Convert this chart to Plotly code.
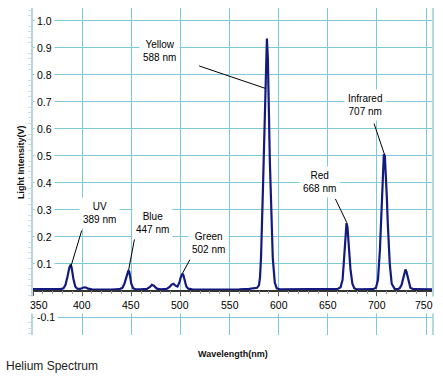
import plotly.graph_objects as go

# ---- spectrum data ----
wavelength = [350, 360, 370, 378, 381, 383, 385, 386, 387, 388, 389, 390, 391, 393, 395, 398,
              400, 402, 404, 406, 410, 420, 430, 438, 441, 443, 445, 446, 447, 448, 449, 450,
              452, 455, 460, 466, 469, 471, 473, 476, 480, 486, 489, 491, 493, 495, 497, 499,
              500, 501, 502, 503, 504, 506, 508, 512, 520, 540, 560, 570, 575, 578, 580, 581,
              582, 583, 584, 585, 586, 587, 588, 589, 590, 591, 592, 593, 594, 596, 598, 602,
              620, 640, 655, 660, 663, 665, 666, 667, 668, 669, 670, 671, 672, 673, 675, 677,
              680, 690, 696, 699, 701, 703, 704, 705, 706, 707, 708, 709, 710, 711, 713, 715,
              718, 721, 723, 725, 727, 728, 729, 730, 732, 734, 737, 745, 756]
intensity = [0.005, 0.005, 0.004, 0.005, 0.008, 0.02, 0.05, 0.07, 0.085, 0.093, 0.09, 0.07, 0.045, 0.015, 0.007, 0.006,
             0.008, 0.012, 0.011, 0.007, 0.004, 0.003, 0.003, 0.005, 0.01, 0.025, 0.05, 0.065, 0.074, 0.07, 0.05, 0.025,
             0.008, 0.004, 0.004, 0.006, 0.013, 0.021, 0.018, 0.007, 0.004, 0.006, 0.013, 0.022, 0.025, 0.018, 0.015, 0.03,
             0.045, 0.057, 0.063, 0.058, 0.04, 0.015, 0.007, 0.004, 0.003, 0.003, 0.004, 0.006, 0.008, 0.01, 0.02, 0.05,
             0.12, 0.22, 0.38, 0.52, 0.65, 0.80, 0.935, 0.86, 0.62, 0.48, 0.36, 0.22, 0.12, 0.03, 0.008, 0.004,
             0.004, 0.004, 0.004, 0.006, 0.012, 0.04, 0.09, 0.16, 0.22, 0.25, 0.235, 0.19, 0.13, 0.08, 0.025, 0.008,
             0.004, 0.004, 0.005, 0.01, 0.04, 0.15, 0.25, 0.35, 0.45, 0.505, 0.5, 0.44, 0.35, 0.25, 0.1, 0.025,
             0.006, 0.005, 0.008, 0.02, 0.05, 0.072, 0.078, 0.07, 0.035, 0.01, 0.005, 0.004, 0.004]

# ---- tick labels ----
x_tick_vals = [350, 400, 450, 500, 550, 600, 650, 700, 750]
x_tick_text = ["350", "400", "450", "500", "550", "600", "650", "700", "750"]
y_tick_vals = [1.0, 0.9, 0.8, 0.7, 0.6, 0.5, 0.4, 0.3, 0.2, 0.1, -0.1]
y_tick_text = ["1.0", "0.9", "0.8", "0.7", "0.6", "0.5", "0.4", "0.3", "0.2", "0.1", "-0.1"]

# ---- peak labels: text, arrow tip (wl, value), arrow tail (wl, value), text centre (wl, value) ----
label_text = ["UV<br>389 nm", "Blue<br>447 nm", "Green<br>502 nm", "Yellow<br>588 nm", "Red<br>668 nm", "Infrared<br>707 nm"]
tip_wl = [388.5, 447.3, 502.0, 586.3, 669.3, 707.8]
tip_val = [0.088, 0.076, 0.063, 0.75, 0.252, 0.503]
tail_wl = [400.0, 453.5, 510.5, 517.5, 657.0, 696.5]
tail_val = [0.228, 0.195, 0.12, 0.835, 0.345, 0.625]
text_wl = [418.0, 471.5, 529.0, 479.0, 641.5, 687.5]
text_val = [0.287, 0.25, 0.175, 0.89, 0.402, 0.69]

X_RANGE = [350, 756]
Y_RANGE = [-0.165, 1.048]
GRID = "#7cc9dc"
FONT = "Liberation Sans, Arial, sans-serif"

fig = go.Figure()
fig.add_trace(go.Scatter(x=wavelength, y=intensity, mode="lines",
                         line=dict(color="#121a80", width=2.2), hoverinfo="skip"))

zero_pos = -Y_RANGE[0] / (Y_RANGE[1] - Y_RANGE[0])

annotations = []
for v, t in zip(y_tick_vals, y_tick_text):
    annotations.append(dict(x=0, xref="paper", y=v, yref="y", text=t, showarrow=False,
                            xanchor="left", yanchor="middle", xshift=1, bgcolor="white",
                            borderpad=2, font=dict(family=FONT, size=10.5, color="#000")))
for i, (v, t) in enumerate(zip(x_tick_vals, x_tick_text)):
    shift = 6 if i == 0 else (-2 if i == len(x_tick_vals) - 1 else 0)
    annotations.append(dict(x=v, xref="x", y=0, yref="y", text=t, showarrow=False,
                            xanchor="center", yanchor="top", yshift=-5, xshift=shift,
                            bgcolor="white", borderpad=2,
                            font=dict(family=FONT, size=10.5, color="#000")))
for i in range(len(label_text)):
    annotations.append(dict(x=tip_wl[i], y=tip_val[i], xref="x", yref="y",
                            ax=tail_wl[i], ay=tail_val[i], axref="x", ayref="y",
                            text="", showarrow=True, arrowhead=0, arrowwidth=1,
                            arrowcolor="black", standoff=0, startstandoff=0))
    annotations.append(dict(x=text_wl[i], y=text_val[i], xref="x", yref="y",
                            text=label_text[i], showarrow=False, align="center",
                            bgcolor="white", borderpad=3,
                            font=dict(family=FONT, size=10, color="#000")))

annotations.append(dict(x=0.5, xref="paper", y=-0.038, yref="paper", text="<b>Wavelength(nm)</b>",
                        showarrow=False, xshift=0, yanchor="top",
                        font=dict(family=FONT, size=9, color="#111")))
annotations.append(dict(x=-0.032, xref="paper", y=0.53, yref="paper", text="<b>Light Intensity(V)</b>",
                        showarrow=False, textangle=-90, xanchor="center", yanchor="middle",
                        font=dict(family=FONT, size=9, color="#111")))
annotations.append(dict(x=-0.072, xref="paper", y=-0.066, yref="paper", text="Helium Spectrum",
                        showarrow=False, xanchor="left", yanchor="top",
                        font=dict(family=FONT, size=12, color="#222")))

fig.update_layout(
    width=443, height=380,
    margin=dict(l=33, r=11, t=8, b=45),
    paper_bgcolor="white", plot_bgcolor="white",
    showlegend=False,
    annotations=annotations,
    xaxis=dict(range=X_RANGE, anchor="free", position=zero_pos,
               tick0=350, dtick=50, showticklabels=False,
               showgrid=True, gridcolor=GRID, gridwidth=1.3,
               showline=True, linecolor="#333", linewidth=1.5,
               ticks="outside", ticklen=5, tickcolor="#555", tickwidth=1,
               minor=dict(ticks="outside", ticklen=3, dtick=10, tickcolor="#999", showgrid=False),
               zeroline=False, fixedrange=True),
    yaxis=dict(range=Y_RANGE, tick0=0, dtick=0.1, showticklabels=False,
               showgrid=True, gridcolor=GRID, gridwidth=1.3,
               showline=True, linecolor="#b8d6de", linewidth=1.5, mirror=True,
               ticks="", minor=dict(ticks="outside", ticklen=3, dtick=0.02,
                                    tickcolor="#c8dfe5", showgrid=False),
               zeroline=False, fixedrange=True),
)

fig.write_html("out.html", config={"displayModeBar": False},
               post_script="document.body.style.margin='0';document.body.style.overflow='hidden';")
